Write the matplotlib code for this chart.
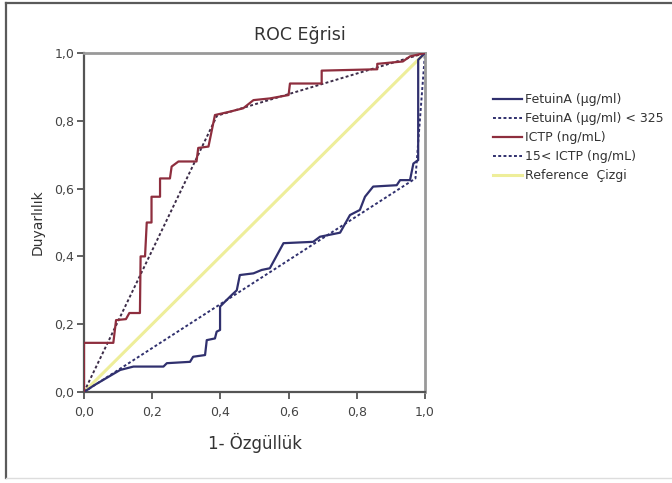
import matplotlib
matplotlib.use("Agg")
import matplotlib.pyplot as plt
from matplotlib.lines import Line2D

# ---- data ----
ictp_fpr = [0, 0, 0.086, 0.094, 0.123, 0.133, 0.164, 0.166, 0.179, 0.184, 0.198, 0.198,
            0.223, 0.223, 0.252, 0.257, 0.277, 0.33, 0.335, 0.365, 0.384, 0.428, 0.467,
            0.497, 0.545, 0.60, 0.604, 0.697, 0.697, 0.86, 0.86, 0.935, 0.956, 1.0]
ictp_tpr = [0, 0.145, 0.145, 0.212, 0.215, 0.233, 0.233, 0.40, 0.40, 0.50, 0.50, 0.576,
            0.576, 0.63, 0.63, 0.665, 0.68, 0.68, 0.72, 0.724, 0.817, 0.827, 0.837,
            0.861, 0.866, 0.876, 0.91, 0.91, 0.948, 0.952, 0.968, 0.975, 0.99, 1.0]

fet_fpr = [0, 0.03, 0.106, 0.145, 0.233, 0.243, 0.311, 0.32, 0.355, 0.36, 0.384, 0.389,
           0.399, 0.399, 0.413, 0.433, 0.448, 0.457, 0.497, 0.521, 0.545, 0.585, 0.672,
           0.692, 0.751, 0.78, 0.809, 0.824, 0.848, 0.917, 0.927, 0.956, 0.966, 0.98,
           0.98, 1.0]
fet_tpr = [0, 0.02, 0.065, 0.075, 0.075, 0.085, 0.089, 0.104, 0.109, 0.153, 0.158, 0.178,
           0.183, 0.252, 0.266, 0.286, 0.30, 0.345, 0.35, 0.36, 0.365, 0.439, 0.443,
           0.458, 0.47, 0.522, 0.537, 0.576, 0.606, 0.61, 0.625, 0.625, 0.674, 0.684,
           0.98, 1.0]

fet_cut_fpr = [0, 0.972, 1.0]
fet_cut_tpr = [0, 0.63, 1.0]

ictp_cut_fpr = [0, 0.39, 1.0]
ictp_cut_tpr = [0, 0.815, 1.0]

ref_x = [0, 1]
ref_y = [0, 1]

tick_vals = [0, 0.2, 0.4, 0.6, 0.8, 1.0]
tick_labels = ["0,0", "0,2", "0,4", "0,6", "0,8", "1,0"]

labels = ["FetuinA (µg/ml)", "FetuinA (µg/ml) < 325", "ICTP (ng/mL)",
          "15< ICTP (ng/mL)", "Reference  Çizgi"]

# ---- figure ----
W, H = 672, 483
fig = plt.figure(figsize=(W / 100, H / 100), dpi=100)
fig.patch.set_facecolor("white")

def fx(p): return p / W
def fy(p): return 1 - p / H

frame_col = "#5a5a5a"
fig.add_artist(Line2D([fx(6), fx(6)], [fy(3), fy(478)], color=frame_col, lw=1.6))
fig.add_artist(Line2D([fx(6), 1.0], [fy(3), fy(3)], color=frame_col, lw=1.6))
fig.add_artist(Line2D([fx(6), 1.0], [fy(478), fy(478)], color="#dddddd", lw=1.0))

ax = fig.add_axes([fx(84), fy(392), (425 - 84) / W, (392 - 53) / H])

blue = "#30306e"
red = "#8e2e3e"
ref_col = "#eeee9a"
dot = (0, (1.5, 1.2))

ax.plot(ref_x, ref_y, color=ref_col, lw=2.2, zorder=1)
ax.plot(fet_cut_fpr, fet_cut_tpr, color=blue, lw=1.4, ls=dot, zorder=2)
ax.plot(ictp_cut_fpr, ictp_cut_tpr, color="#3c2c48", lw=1.4, ls=dot, zorder=2)
ax.plot(fet_fpr, fet_tpr, color=blue, lw=1.6, zorder=3)
ax.plot(ictp_fpr, ictp_tpr, color=red, lw=1.6, zorder=3)

ax.set_xlim(0, 1)
ax.set_ylim(0, 1)
ax.set_xticks(tick_vals)
ax.set_xticklabels(tick_labels)
ax.set_yticks(tick_vals)
ax.set_yticklabels(tick_labels)
ax.tick_params(direction="out", length=5, width=1.3, colors="#555555",
               labelsize=9, labelcolor="#444444")
ax.tick_params(axis="x", pad=5)
ax.tick_params(axis="y", pad=2)

for s in ["left", "bottom"]:
    ax.spines[s].set_color("#555555")
    ax.spines[s].set_linewidth(1.6)
for s in ["top", "right"]:
    ax.spines[s].set_color("#999999")
    ax.spines[s].set_linewidth(2.0)

ax.set_xlabel("1- Özgüllük", fontsize=12, color="#333333", labelpad=10)
ax.set_ylabel("Duyarlılık", fontsize=10, color="#333333", labelpad=7)

fig.text(fx(300), fy(35), "ROC Eğrisi", fontsize=12.5, color="#333333",
         ha="center", va="center")

handles = [
    Line2D([], [], color=blue, lw=1.6),
    Line2D([], [], color=blue, lw=1.4, ls=dot),
    Line2D([], [], color=red, lw=1.6),
    Line2D([], [], color=blue, lw=1.4, ls=dot),
    Line2D([], [], color=ref_col, lw=2.2),
]
fig.legend(handles, labels, loc="upper left", bbox_to_anchor=(fx(493), fy(93)),
           frameon=False, fontsize=9, handlelength=2.3, handletextpad=0.25,
           labelspacing=0.48, borderpad=0, borderaxespad=0, labelcolor="#333333")

fig.savefig("out.png", dpi=100, facecolor="white")
